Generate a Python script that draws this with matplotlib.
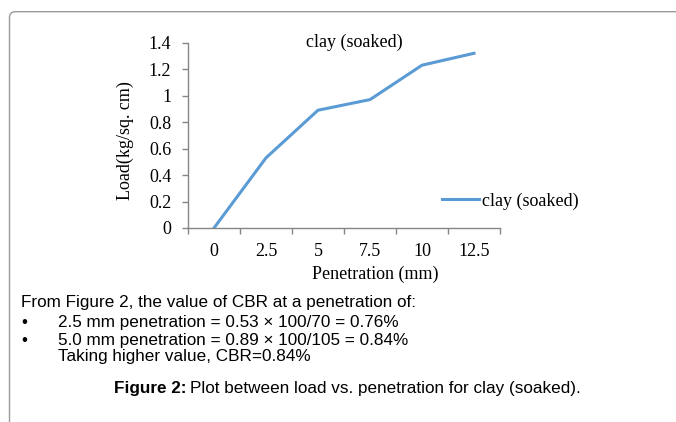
import numpy as np
import matplotlib.pyplot as plt
from matplotlib.patches import FancyBboxPatch
from matplotlib.transforms import IdentityTransform

# ---------- data ----------
penetration = ["0", "2.5", "5", "7.5", "10", "12.5"]
load = [0.0, 0.53, 0.89, 0.97, 1.23, 1.32]
y_ticks = [0, 0.2, 0.4, 0.6, 0.8, 1.0, 1.2, 1.4]
y_tick_labels = ["0", "0.2", "0.4", "0.6", "0.8", "1", "1.2", "1.4"]
series_name = "clay (soaked)"

caption_lines = [
    "From Figure 2, the value of CBR at a penetration of:",
    "2.5 mm penetration = 0.53 \u00d7 100/70 = 0.76%",
    "5.0 mm penetration = 0.89 \u00d7 100/105 = 0.84%",
    "Taking higher value, CBR=0.84%",
]

W, H = 676, 422
serif = "Liberation Serif"
sans = "Liberation Sans"
axis_grey = "#868686"
blue = "#5B9BD5"
sfs = 13     # chart font size
fs = 12.3    # caption font size

fig = plt.figure(figsize=(W / 100, H / 100), dpi=100)

# rounded border (only top and left edges fall inside the image)
border = FancyBboxPatch((9.5, -40), 720, H - 11.7 + 40,
                        boxstyle="round,pad=0,rounding_size=6",
                        transform=IdentityTransform(),
                        facecolor="none", edgecolor="#9a9a9a", linewidth=1.0)
fig.add_artist(border)

# ---------- chart ----------
ax = fig.add_axes([188 / W, 1 - 228 / H, 312 / W, (228 - 42.7) / H])
x = np.arange(len(penetration))
ax.plot(x, load, color=blue, linewidth=2.2, label=series_name)

ax.set_xlim(-0.5, len(penetration) - 0.5)
ax.set_ylim(0, 1.4)
ax.set_yticks(y_ticks)
ax.set_yticklabels(y_tick_labels, fontfamily=serif, fontsize=sfs)

# category axis: ticks at boundaries, labels centred
ax.set_xticks(np.arange(-0.5, len(penetration), 1.0))
ax.set_xticklabels([])
ax.set_xticks(x, minor=True)
ax.set_xticklabels(penetration, minor=True, fontfamily=serif, fontsize=sfs)
ax.tick_params(axis="x", which="major", direction="out", length=4,
               color=axis_grey, width=1)
ax.tick_params(axis="x", which="minor", length=0, pad=11)
ax.tick_params(axis="y", direction="out", length=4, color=axis_grey,
               width=1, pad=8)

for s in ["top", "right"]:
    ax.spines[s].set_visible(False)
for s in ["left", "bottom"]:
    ax.spines[s].set_color(axis_grey)
    ax.spines[s].set_linewidth(1)

fig.text(354 / W, 1 - 42 / H, series_name, fontfamily=serif, fontsize=sfs,
         ha="center", va="center")
fig.text(375 / W, 1 - 274 / H, "Penetration (mm)", fontfamily=serif,
         fontsize=sfs, ha="center", va="center")
fig.text(125 / W, 1 - 141 / H, "Load(kg/sq. cm)", fontfamily=serif,
         fontsize=sfs, ha="center", va="center", rotation=90)

leg = ax.legend(loc="center left", bbox_to_anchor=(442 / W, 1 - 201 / H),
                bbox_transform=fig.transFigure, frameon=False,
                prop={"family": serif, "size": sfs},
                handlelength=2.05, handletextpad=0.15, borderpad=0,
                borderaxespad=0)

# ---------- caption text ----------
fig.text(21 / W, 1 - 303 / H, caption_lines[0], fontfamily=sans,
         fontsize=fs, va="center")
for yy, line in zip([322.5, 340.5], caption_lines[1:3]):
    fig.text(21 / W, 1 - yy / H, "\u2022", fontfamily=sans, fontsize=fs,
             va="center")
    fig.text(58 / W, 1 - yy / H, line, fontfamily=sans, fontsize=fs,
             va="center")
fig.text(58 / W, 1 - 357 / H, caption_lines[3], fontfamily=sans,
         fontsize=fs, va="center")

cap_y = 1 - 389 / H
t1 = fig.text(114 / W, cap_y, "Figure 2:", fontfamily=sans, fontsize=fs,
              fontweight="bold", va="center")
fig.canvas.draw()
bb = t1.get_window_extent()
fig.text((bb.x1 + 3) / W, cap_y,
         "Plot between load vs. penetration for clay (soaked).",
         fontfamily=sans, fontsize=fs, va="center")

fig.savefig("out.png", dpi=100)
